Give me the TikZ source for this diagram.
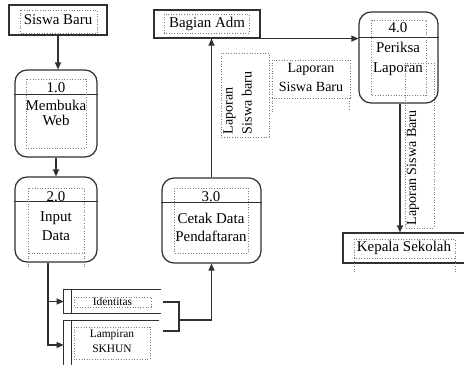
\documentclass[tikz,border=0pt]{standalone}
\usepackage{fontspec}
\setmainfont{Liberation Serif}
\usetikzlibrary{arrows.meta}
\definecolor{mylinecolor}{HTML}{303030}
\definecolor{myframecolor}{HTML}{7a7a7a}

\tikzset{
  entitybox/.style={draw=mylinecolor, line width=0.7pt, rectangle, inner sep=0pt, font=\fontsize{8.5pt}{10pt}\selectfont},
  procbox/.style={draw=mylinecolor, line width=0.7pt, rectangle, rounded corners=0.24cm, inner sep=0pt},
  proctext/.style={align=center, inner sep=0pt, font=\fontsize{8.5pt}{11pt}\selectfont},
  storebox/.style={rectangle, inner sep=0pt, font=\fontsize{6.5pt}{8.5pt}\selectfont, align=center},
  flowlabel/.style={align=center, inner sep=0pt, font=\fontsize{8pt}{10.8pt}\selectfont},
  flow/.style={draw=mylinecolor, line width=0.7pt, -{Triangle[length=0.14cm, width=0.12cm]}},
  plain/.style={draw=mylinecolor, line width=0.7pt},
  txtframe/.style={draw=myframecolor, densely dotted, line width=0.5pt},
}

\begin{document}
\begin{tikzpicture}[x=0.02cm, y=-0.02cm]%
\clip (0,0) rectangle (464,365);%
% external entities
\node[entitybox, minimum width=1.96cm, minimum height=0.6cm] (siswa) at (58,20) {Siswa Baru};%
\node[entitybox, minimum width=2.12cm, minimum height=0.56cm] (adm) at (207,24) {Bagian Adm};%
\node[entitybox, minimum width=2.8cm, minimum height=0.6cm] (kepala) at (413,248) {};%
\node[entitybox, draw=none] (kepalatext) at (404,248) {Kepala Sekolah};%
% processes
\node[procbox, minimum width=1.64cm, minimum height=1.74cm] (p1) at (56,113.5) {};%
\node[proctext] (p1num) at (56,87.5) {1.0};%
\node[proctext, font=\fontsize{8.5pt}{8.8pt}\selectfont] (p1name) at (56,113) {Membuka\\Web};%
\node[procbox, minimum width=1.64cm, minimum height=1.7cm] (p2) at (56,219.5) {};%
\node[proctext] (p2num) at (56,197) {2.0};%
\node[proctext] (p2name) at (56,226) {Input\\Data};%
\node[procbox, minimum width=1.98cm, minimum height=1.7cm] (p3) at (211.5,220.5) {};%
\node[proctext] (p3num) at (211,197) {3.0};%
\node[proctext, font=\fontsize{8.5pt}{10.2pt}\selectfont] (p3name) at (211,227) {Cetak Data\\Pendaftaran};%
\node[procbox, minimum width=1.58cm, minimum height=1.82cm] (p4) at (398.5,57.5) {};%
\node[proctext] (p4num) at (398,28) {4.0};%
\node[proctext] (p4name) at (398,59) {Periksa\\Laporan};%
\draw[plain] ([yshift=-0.5cm]p1.north west) -- ([yshift=-0.5cm]p1.north east);%
\draw[plain] ([yshift=-0.5cm]p2.north west) -- ([yshift=-0.5cm]p2.north east);%
\draw[plain] ([yshift=-0.5cm]p3.north west) -- ([yshift=-0.5cm]p3.north east);%
\draw[plain] ([yshift=-0.52cm]p4.north west) -- ([yshift=-0.52cm]p4.north east);%
% data stores
\node[storebox, minimum width=1.94cm, minimum height=0.46cm] (identitas) at (112.5,301.5) {Identitas};%
\node[storebox, minimum width=1.9cm, minimum height=0.96cm] (lampiran) at (111.5,345) {};%
\node[storebox] (lampirantext) at (112,341) {Lampiran\\SKHUN};%
\draw[plain] (identitas.north east) -- (identitas.north west) -- (identitas.south west) -- (identitas.south east);%
\draw[plain] ([xshift=0.16cm]identitas.north west) -- ([xshift=0.16cm]identitas.south west);%
\draw[plain] (lampiran.north east) -- (lampiran.north west) -- (lampiran.south west);%
\draw[plain] ([xshift=0.16cm]lampiran.north west) -- ([xshift=0.16cm]lampiran.south west);%
% text frames
\draw[txtframe] (20,10) rectangle (97,33);%
\draw[txtframe] (164,14) rectangle (249,33);%
\draw[txtframe] (354,239) rectangle (455,258);%
\draw[txtframe] (354,258) -- (354,272) (455,258) -- (455,272);%
\draw[txtframe] (26,79) rectangle (86,148);%
\draw[txtframe] (28,188) rectangle (84,253);%
\draw[txtframe] (28,253) -- (28,268) (84,253) -- (84,268);%
\draw[txtframe] (174,188) rectangle (248,253);%
\draw[txtframe] (371,20) rectangle (426,95);%
\draw[txtframe] (74,297) rectangle (151,307);%
\draw[txtframe] (74,327) rectangle (150,359);%
% flow labels
\node[flowlabel, rotate=90, align=left] (lblsb) at (237.5,103) {Laporan\\Siswa baru};%
\draw[txtframe] (221,53) rectangle (269,137);%
\node[flowlabel] (lbladm) at (311,77) {Laporan\\Siswa Baru};%
\draw[txtframe] (272,60) rectangle (350,98);%
\draw[txtframe] (272,98) -- (272,112) (349,98) -- (349,110);%
\node[flowlabel, rotate=90] (lblkepala) at (413,168) {Laporan Siswa Baru};%
\draw[txtframe] (405,63) rectangle (434,228);%
% flows
\coordinate (brkA) at (163,302);%
\coordinate (brkB) at (163,331);%
\coordinate (brkM) at (179,320);%
\draw[flow] (siswa.south) -- (siswa.south |- p1.north);%
\draw[flow] (p1.south) -- (p2.north);%
\draw[flow] ([xshift=-0.16cm]p2.south) |- (identitas.west);%
\draw[flow] ([xshift=-0.16cm]p2.south) |- (lampiran.west);%
\draw[plain] (brkA) -| (brkM) |- (brkB);%
\draw[flow] (brkM) -| (p3.south);%
\draw[flow] (p3.north) -- (p3.north |- adm.south);%
\draw[flow] (adm.south east) -- (adm.south east -| p4.west);%
\draw[flow] ([xshift=0.03cm]p4.south) -- ([xshift=0.03cm]p4.south |- kepala.north);%
\end{tikzpicture}
\end{document}
